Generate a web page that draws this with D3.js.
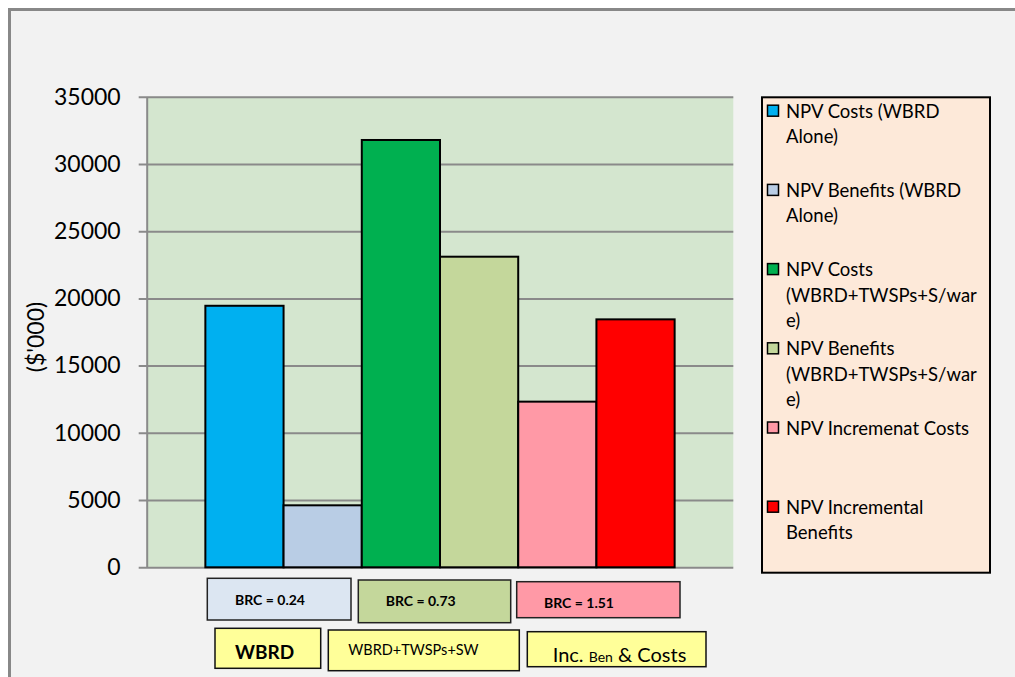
<!DOCTYPE html>
<html>
<head>
<meta charset="utf-8">
<script src="https://cdn.jsdelivr.net/npm/d3@7"></script>
<style>
  html, body { margin: 0; padding: 0; background: #ffffff; }
  svg { display: block; }
  text { font-family: Lato, "Open Sans", sans-serif; fill: #000; }
</style>
</head>
<body>
<svg id="chart" width="1015" height="677"></svg>
<script>
// Net present values ($'000) for each scenario
const seriesNames = [
  "NPV Costs (WBRD Alone)",
  "NPV Benefits (WBRD Alone)",
  "NPV Costs (WBRD+TWSPs+S/ware)",
  "NPV Benefits (WBRD+TWSPs+S/ware)",
  "NPV Incremenat Costs",
  "NPV Incremental Benefits"
];
const seriesValues = [19450, 4610, 31780, 23100, 12320, 18440];
const seriesColors = ["#00b0f0", "#b9cde5", "#00b050", "#c4d79b", "#ff99a6", "#ff0000"];
const legendLines = [
  ["NPV Costs (WBRD", "Alone)"],
  ["NPV Benefits (WBRD", "Alone)"],
  ["NPV Costs", "(WBRD+TWSPs+S/war", "e)"],
  ["NPV Benefits", "(WBRD+TWSPs+S/war", "e)"],
  ["NPV Incremenat Costs"],
  ["NPV Incremental", "Benefits"]
];
const yTicks = [0, 5000, 10000, 15000, 20000, 25000, 30000, 35000];
const brcLabels = ["BRC = 0.24", "BRC = 0.73", "BRC = 1.51"];
const brcColors = ["#dce6f2", "#c4d79b", "#ff99a6"];
const groupLabels = ["WBRD", "WBRD+TWSPs+SW", "Inc. Ben & Costs"];

const svg = d3.select("#chart");

// chart background and frame
svg.append("rect").attr("x", 9.5).attr("y", 9.5).attr("width", 1010).attr("height", 670)
  .attr("fill", "#f2f2f2");
svg.append("path").attr("d", "M9.5,677 V9.5 H1015")
  .attr("fill", "none").attr("stroke", "#888888").attr("stroke-width", 3);

const plot = { left: 146.7, right: 733.3, top: 96.7, bottom: 567.3 };

const y = d3.scaleLinear().domain([0, 35000]).range([plot.bottom, plot.top]);
const x = d3.scaleBand().domain(seriesNames).range([plot.left, plot.right])
  .paddingInner(0).paddingOuter(0.75);

// plot area
svg.append("rect")
  .attr("x", plot.left).attr("y", plot.top)
  .attr("width", plot.right - plot.left).attr("height", plot.bottom - plot.top)
  .attr("fill", "#d4e6cf");

// y axis with gridlines
const yAxis = d3.axisLeft(y).tickValues(yTicks).tickFormat(d3.format("d"))
  .tickSizeInner(-(plot.right - plot.left)).tickSizeOuter(0);
const gAxis = svg.append("g").attr("transform", `translate(${plot.left},0)`).call(yAxis);
gAxis.select(".domain").attr("stroke", "#8a8a8a").attr("stroke-width", 2);
gAxis.selectAll(".tick line").attr("stroke", "#8a8a8a").attr("stroke-width", 2)
  .attr("x1", -8);
gAxis.selectAll(".tick text").attr("font-size", 23).attr("font-family", "Lato, sans-serif")
  .attr("fill", "#000").attr("x", -26);

// y axis title
svg.append("text")
  .attr("transform", "translate(44,337) rotate(-90)")
  .attr("text-anchor", "middle")
  .attr("font-size", 23)
  .text("($'000)");

// bars
svg.append("g").selectAll("rect").data(seriesNames).join("rect")
  .attr("x", d => x(d))
  .attr("y", (d, i) => y(seriesValues[i]))
  .attr("width", x.bandwidth())
  .attr("height", (d, i) => y(0) - y(seriesValues[i]))
  .attr("fill", (d, i) => seriesColors[i])
  .attr("stroke", "#000").attr("stroke-width", 2);

// legend
const legend = svg.append("g");
legend.append("rect").attr("x", 762).attr("y", 97.3).attr("width", 228).attr("height", 475.4)
  .attr("fill", "#fde9d9").attr("stroke", "#000").attr("stroke-width", 2);
const itemStep = 79.2, lineStep = 25.4, firstLine = 110.7;
legendLines.forEach((lines, i) => {
  const cy = firstLine + i * itemStep;
  legend.append("rect").attr("x", 767.5).attr("y", cy - 5.5).attr("width", 11).attr("height", 11)
    .attr("fill", seriesColors[i]).attr("stroke", "#000").attr("stroke-width", 1.5);
  lines.forEach((ln, j) => {
    legend.append("text").attr("x", 786).attr("y", cy + j * lineStep)
      .attr("dominant-baseline", "central").attr("font-size", 18.5).text(ln);
  });
});

// benefit-cost ratio boxes
const brcBoxes = [
  { x: 207.3, y: 578.3, w: 143.7, h: 41.7, tx: 235, ty: 599.3 },
  { x: 358.3, y: 580, w: 152.4, h: 42.7, tx: 385.7, ty: 600.5 },
  { x: 516.7, y: 581.7, w: 163.3, h: 36, tx: 544, ty: 602.3 }
];
brcBoxes.forEach((b, i) => {
  svg.append("rect").attr("x", b.x).attr("y", b.y).attr("width", b.w).attr("height", b.h)
    .attr("fill", brcColors[i]).attr("stroke", "#222").attr("stroke-width", 1.5);
  svg.append("text").attr("x", b.tx).attr("y", b.ty).attr("dominant-baseline", "central")
    .attr("font-size", 14).attr("font-weight", "bold").text(brcLabels[i]);
});

// scenario name boxes
const nameBoxes = [
  { x: 215, y: 628.3, w: 105.7, h: 40 },
  { x: 328.3, y: 630, w: 191, h: 40.7 },
  { x: 527.3, y: 631.7, w: 178.7, h: 35 }
];
nameBoxes.forEach(b => {
  svg.append("rect").attr("x", b.x).attr("y", b.y).attr("width", b.w).attr("height", b.h)
    .attr("fill", "#ffff99").attr("stroke", "#111").attr("stroke-width", 1.5);
});
svg.append("text").attr("x", 235).attr("y", 651.7).attr("dominant-baseline", "central")
  .attr("font-size", 19).attr("font-weight", "bold").text(groupLabels[0]);
svg.append("text").attr("x", 348.3).attr("y", 649).attr("dominant-baseline", "central")
  .attr("font-size", 14.5).text(groupLabels[1]);
const incParts = groupLabels[2].split(" ");
const incText = svg.append("text").attr("x", 552.7).attr("y", 662);
incText.append("tspan").attr("font-size", 20).text(incParts[0] + " ");
incText.append("tspan").attr("font-size", 14).text(incParts[1]);
incText.append("tspan").attr("font-size", 20).text(" " + incParts.slice(2).join(" "));
</script>
</body>
</html>
